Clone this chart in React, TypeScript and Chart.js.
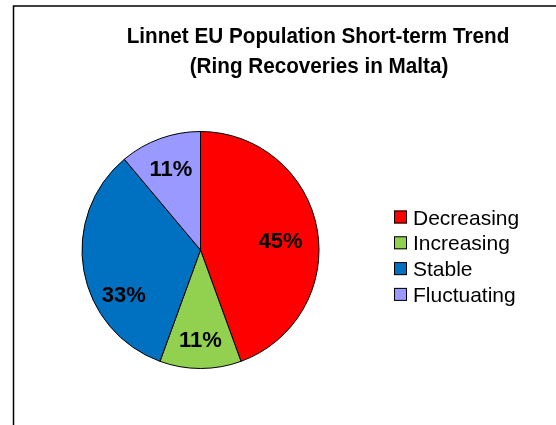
import React, { useEffect, useRef } from "react";
import { Chart, registerables } from "chart.js";

Chart.register(...registerables);

const categories = ["Decreasing", "Increasing", "Stable", "Fluctuating"];
const values = [4, 1, 3, 1];
const percentLabels = ["45%", "11%", "33%", "11%"];
const colors = ["#FF0000", "#92D050", "#0070C0", "#9999FF"];
const titleLines = ["Linnet EU Population Short-term Trend", "(Ring Recoveries in Malta)"];

const FONT = "'Liberation Sans', Arial, Helvetica, sans-serif";

const framePlugin = {
  id: "frame",
  beforeDraw(chart: any) {
    const ctx = chart.ctx;
    ctx.save();
    ctx.fillStyle = "#ffffff";
    ctx.fillRect(0, 0, chart.width, chart.height);
    ctx.strokeStyle = "#000000";
    ctx.lineWidth = 1.5;
    ctx.beginPath();
    ctx.moveTo(13.5, chart.height);
    ctx.lineTo(13.5, 6);
    ctx.lineTo(chart.width, 6);
    ctx.stroke();
    ctx.restore();
  },
};

const textPlugin = {
  id: "texts",
  afterDraw(chart: any, _args: any, opts: any) {
    const ctx = chart.ctx;
    ctx.save();
    // title (slightly condensed, like the original)
    ctx.fillStyle = "#000000";
    ctx.font = `bold 22px ${FONT}`;
    ctx.textAlign = "center";
    ctx.textBaseline = "alphabetic";
    const sx = 0.94;
    ctx.save();
    ctx.scale(sx, 1);
    ctx.fillText(titleLines[0], 318 / sx, 43);
    ctx.fillText(titleLines[1], 319 / sx, 73);
    ctx.restore();

    // slice labels (best-fit style placement inside each slice)
    const meta = chart.getDatasetMeta(0);
    const place = opts.placement || [];
    ctx.font = `bold 22px ${FONT}`;
    ctx.textBaseline = "middle";
    meta.data.forEach((arc: any, i: number) => {
      const p = arc.getProps(["x", "y", "startAngle", "endAngle", "outerRadius"], true);
      const pl = place[i] || { t: 0.5, r: 0.73 };
      const a = p.startAngle + (p.endAngle - p.startAngle) * pl.t;
      const r = p.outerRadius * pl.r;
      ctx.fillText(percentLabels[i], p.x + Math.cos(a) * r, p.y + Math.sin(a) * r + 1);
    });

    // legend
    ctx.textAlign = "left";
    ctx.textBaseline = "alphabetic";
    ctx.font = `21px ${FONT}`;
    categories.forEach((c, i) => {
      const base = 224.5 + i * 25.8;
      ctx.fillStyle = colors[i];
      ctx.fillRect(394, base - 14, 13, 13);
      ctx.strokeStyle = "#000000";
      ctx.lineWidth = 1;
      ctx.strokeRect(394.5, base - 13.5, 12, 12);
      ctx.fillStyle = "#000000";
      ctx.fillText(c, 413, base);
    });
    ctx.restore();
  },
};

export default function App() {
  const ref = useRef<HTMLCanvasElement | null>(null);
  useEffect(() => {
    document.body.style.margin = "0";
    const chart = new Chart(ref.current as HTMLCanvasElement, {
      type: "pie",
      data: {
        labels: categories,
        datasets: [
          {
            data: values,
            backgroundColor: colors,
            borderColor: "#000000",
            borderWidth: 1,
          },
        ],
      },
      options: {
        animation: false,
        responsive: false,
        maintainAspectRatio: false,
        layout: { padding: { left: 81, right: 236, top: 131, bottom: 56 } },
        plugins: {
          legend: { display: false },
          title: { display: false },
          tooltip: { enabled: false },
          texts: {
            placement: [
              { t: 0.52, r: 0.68 },
              { t: 0.5, r: 0.76 },
              { t: 0.33, r: 0.75 },
              { t: 0.5, r: 0.73 },
            ],
          },
        } as any,
      },
      plugins: [framePlugin, textPlugin],
    });
    return () => chart.destroy();
  }, []);
  return (
    <div style={{ width: 556, height: 425 }}>
      <canvas ref={ref} width={556} height={425} style={{ display: "block" }} />
    </div>
  );
}
